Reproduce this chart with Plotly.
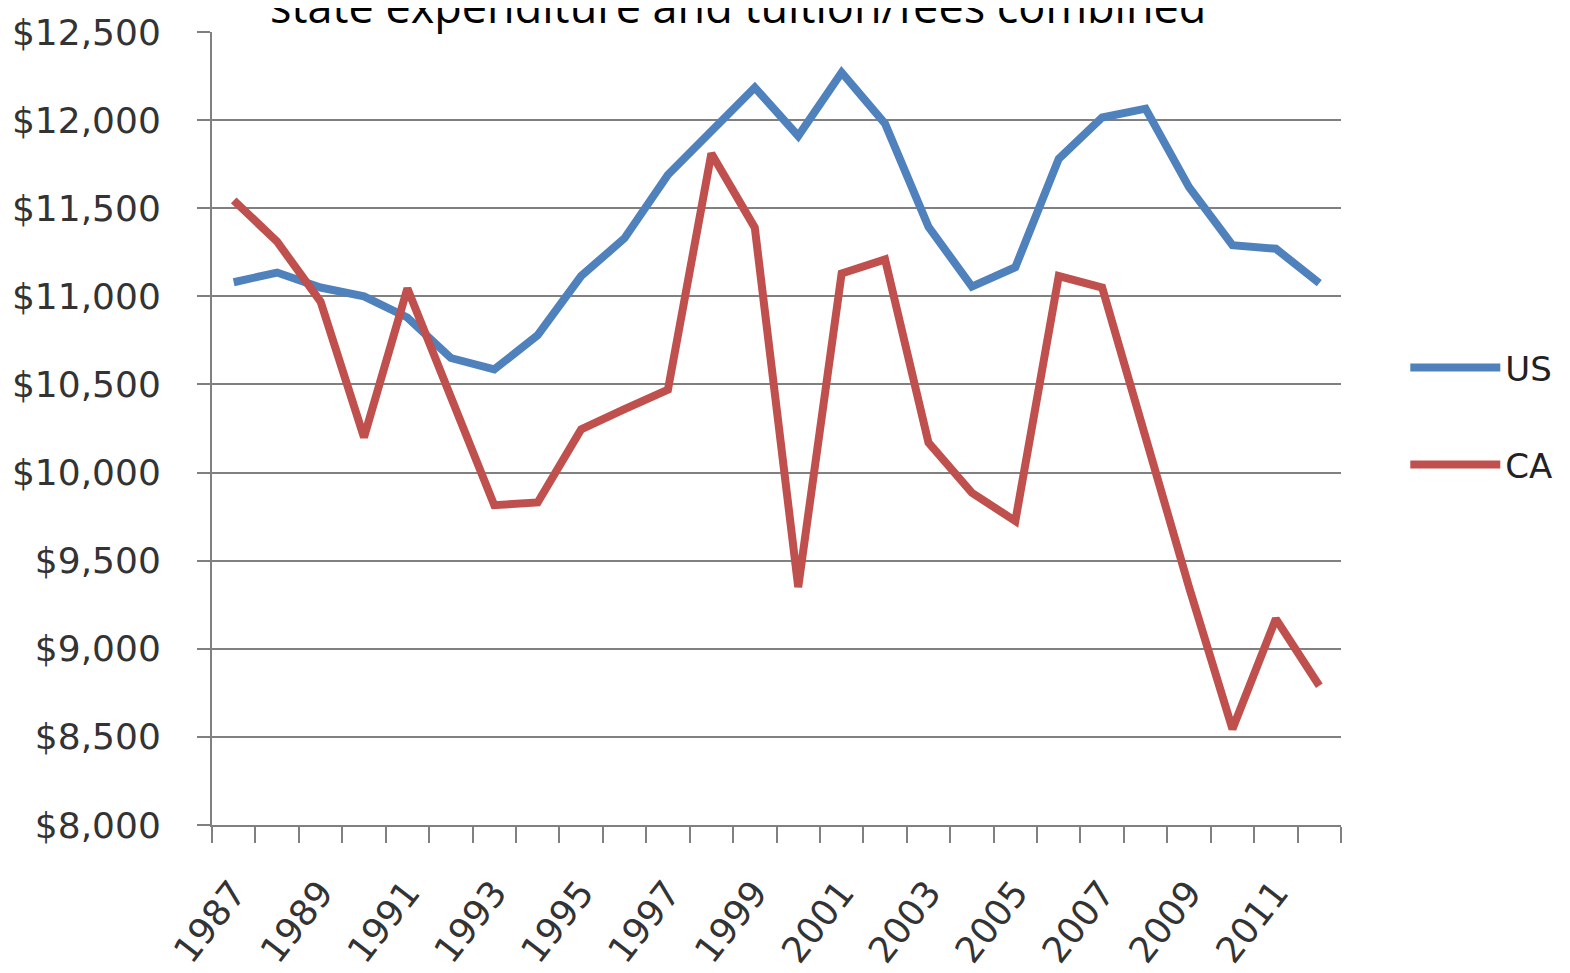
import plotly.graph_objects as go

# ------------------------------------------------------------
# Data
# ------------------------------------------------------------
YEARS = list(range(1987, 2013))

US = [11080, 11135, 11050, 11000, 10880, 10650, 10585, 10780, 11115, 11330,
      11690, 11940, 12185, 11910, 12270, 11980, 11395, 11055, 11165, 11780,
      12015, 12065, 11620, 11290, 11270, 11075]

CA = [11545, 11310, 10970, 10200, 11045, 10430, 9815, 9830, 10245, 10360,
      10470, 11810, 11390, 9350, 11130, 11210, 10170, 9885, 9725, 11115,
      11050, 10200, 9350, 8545, 9170, 8790]

LABEL_YEARS = list(range(1987, 2012, 2))

TITLE = "state expenditure and tuition/fees combined"

BLUE = "#4F81BD"
RED = "#C0504D"
GRID = "#808080"
FONT = "DejaVu Sans"

fig = go.Figure()
fig.add_trace(go.Scatter(x=YEARS, y=US, name="US", mode="lines",
                         line=dict(color=BLUE, width=8), legendgroup="us"))
fig.add_trace(go.Scatter(x=YEARS, y=CA, name="CA", mode="lines",
                         line=dict(color=RED, width=8), legendgroup="ca"))

# page body has an 8px margin, margins below compensate for it
fig.update_layout(
    width=1570, height=973,
    margin=dict(l=204, r=237, t=24, b=156),
    plot_bgcolor="white", paper_bgcolor="white",
    font=dict(family=FONT, size=34, color="#333333"),
    showlegend=True,
    legend=dict(xref="container", yref="container", x=0.890, y=0.660,
                xanchor="left", yanchor="top", itemwidth=90,
                tracegroupgap=50, font=dict(size=34, color="#222222"),
                bgcolor="rgba(0,0,0,0)"),
)

fig.update_xaxes(
    range=[1986.5, 2012.5], automargin=False,
    tickvals=LABEL_YEARS, ticktext=[str(y) for y in LABEL_YEARS],
    ticks="", tickangle=-52, showgrid=False, ticklabelstandoff=30,
    showline=True, linecolor=GRID, linewidth=2,
    minor=dict(ticks="outside", tick0=1986.5, dtick=1, ticklen=16,
               tickcolor=GRID, tickwidth=2, showgrid=False),
    tickfont=dict(size=36, color="#333333"),
)
fig.update_yaxes(
    range=[8000, 12500], dtick=500, tickprefix="$", tickformat=",.0f",
    automargin=False,
    ticks="outside", ticklen=13, tickcolor=GRID, tickwidth=2,
    showgrid=True, gridcolor=GRID, gridwidth=2, zeroline=False,
    showline=True, linecolor=GRID, linewidth=2,
    tickfont=dict(size=36, color="#333333"), ticklabelstandoff=29,
)

fig.add_annotation(text=TITLE, xref="paper", yref="paper",
                   x=0.466, y=1.034, xanchor="center", yanchor="middle",
                   showarrow=False,
                   font=dict(family="Open Sans", size=45, color="black"))

fig.write_html("out.html")
